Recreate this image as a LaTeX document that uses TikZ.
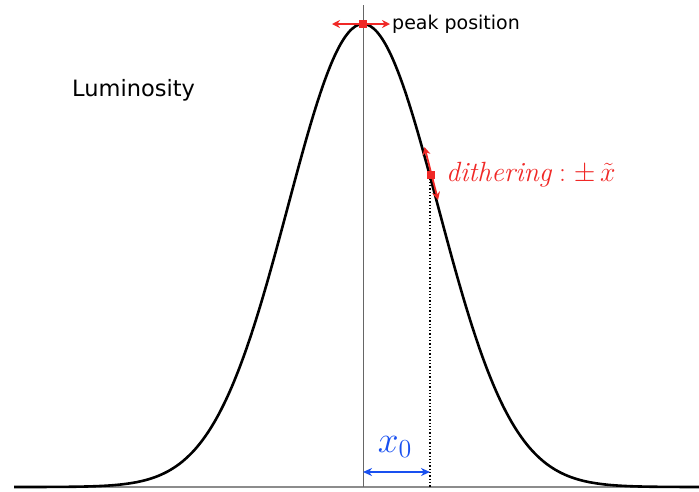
\documentclass[tikz,border=0pt]{standalone}
\usepackage{graphicx}
\usepackage{fontspec}
\newfontfamily\labelfont{DejaVu Sans}
\usetikzlibrary{arrows.meta}
\definecolor{dred}{RGB}{240,40,38}
\definecolor{dblue}{RGB}{25,80,240}
\tikzset{
  x=1pt, y=-1pt,
  curve/.style={line width=2.6pt, black, line join=round},
  axisline/.style={line width=1.6pt, black!45},
  guide/.style={line width=0.8pt, black!60},
  dotline/.style={line width=1.3pt, black, dotted},
  redarrow/.style={line width=1.8pt, dred, {Stealth[length=8pt,width=8pt]}-{Stealth[length=8pt,width=8pt]}},
  bluearrow/.style={line width=1.8pt, dblue, {Stealth[length=9pt,width=8pt]}-{Stealth[length=9pt,width=8pt]}},
  marker/.style={fill=dred, minimum size=7.5pt, inner sep=0pt, outer sep=0pt},
  sanslabel/.style={font=\labelfont, inner sep=0pt, anchor=west}
}
\begin{document}
\begin{tikzpicture}
\useasboundingbox (0,0) rectangle (699,491);
% baseline and guides
\coordinate (bl) at (14,487);
\coordinate (br) at (699,487);
\draw[axisline] (bl) -- (br);
\coordinate (vtop) at (363,5);
\coordinate (vbot) at (363,487);
\draw[guide] (vtop) -- (vbot);
\coordinate (dtop) at (430,175);
\coordinate (dbot) at (430,487);
\draw[dotline] (dtop) -- (dbot);
% gaussian curve
\draw[curve] plot[domain=14:699, samples=220, smooth] (\x, {487-463*exp(-0.5*((\x-363)/75)^2)});
% peak marker
\coordinate (pl) at (332,24);
\coordinate (pr) at (390,24);
\draw[redarrow] (pl) -- (pr);
\node[marker] (peak) at (363,24) {};
\node[sanslabel, font=\labelfont\fontsize{19}{22}\selectfont] (peaklbl) at (392,24) {peak position};
% dithering marker
\coordinate (dl) at (424.5,147);
\coordinate (dr) at (438,200);
\draw[redarrow] (dl) -- (dr);
\node[marker] (dith) at (431,175) {};
\node[anchor=west, inner sep=0pt, text=dred, font=\fontsize{20.74}{24}\selectfont] (dithlbl) at (446,175) {\scalebox{1.34}{$\mathit{dithering}:\pm\,\tilde{x}$}};
% x0 arrow
\coordinate (xa) at (363,472);
\coordinate (xb) at (430,472);
\draw[bluearrow] (xa) -- (xb);
\node[inner sep=0pt, text=dblue, font=\fontsize{20.74}{24}\selectfont] (x0lbl) at (395,447) {\scalebox{1.8}{$x_0$}};
% luminosity
\node[sanslabel, font=\labelfont\fontsize{22.5}{26}\selectfont] (lum) at (72,90) {Luminosity};
\end{tikzpicture}
\end{document}
